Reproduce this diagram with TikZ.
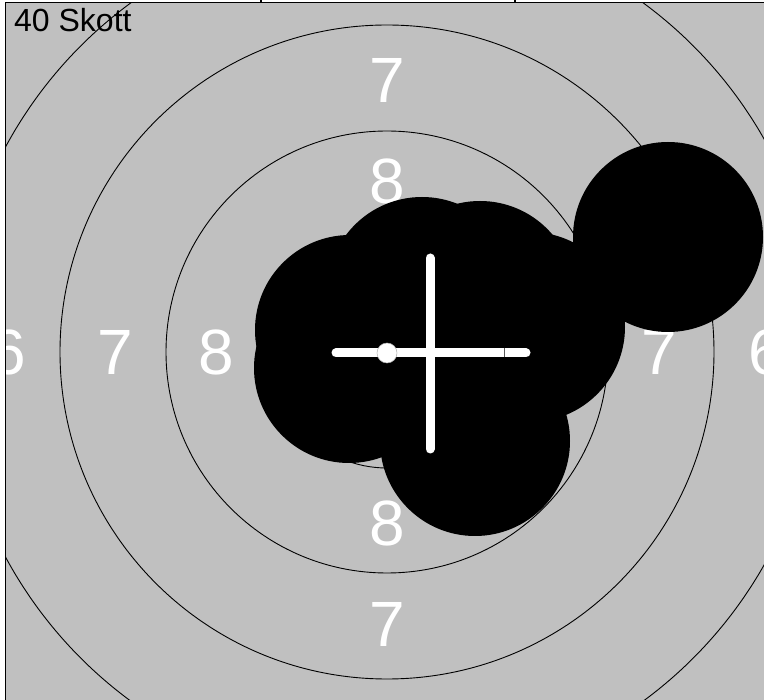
\documentclass[tikz,border=0pt]{standalone}
\usepackage{fontspec}
\setmainfont{Liberation Sans}
\definecolor{tgray}{RGB}{192,192,192}
\begin{document}
\begin{tikzpicture}[x=1pt,y=-1pt,
  ring/.style={draw=black,line width=0.9pt},
  lbl/.style={text=white,inner sep=0pt,font=\fontsize{64}{64}\selectfont},
  shot/.style={fill=black},
  cross/.style={draw=white,line width=9pt,line cap=round},
  frame/.style={draw=black,line width=1.2pt}]
\useasboundingbox (0,0) rectangle (764,700);
\fill[white] (0,0) rectangle (764,700);
\fill[tgray] (6,3) rectangle (764,700);
\begin{scope}
\clip (6,3) rectangle (764,700);
\coordinate (c) at (387,352);
\foreach \r in {116,221,327,433} \draw[ring] (c) circle[radius=\r];
% ring labels
\node[lbl] (l6w) at (8,352) {6};
\node[lbl] (l7w) at (115,352) {7};
\node[lbl] (l8w) at (216,352) {8};
\node[lbl] (l7e) at (659,352) {7};
\node[lbl] (l6e) at (766,352) {6};
\node[lbl] (l7n) at (387,80) {7};
\node[lbl] (l8n) at (387,181) {8};
\node[lbl] (l8s) at (387,523) {8};
\node[lbl] (l7s) at (387,624) {7};
% shots
\foreach \p in {(668,237),(422,292),(480,296),(350,330),(349,368),(475,441),(530,327)}
  \fill[shot] \p circle[radius=95];
% group centre cross
\coordinate (hl) at (336,353);
\coordinate (hr) at (526,353);
\coordinate (vt) at (430,258);
\coordinate (vb) at (430,449);
\draw[cross] (hl) -- (hr);
\draw[cross] (vt) -- (vb);
\coordinate (tk1) at (504,348.5);
\coordinate (tk2) at (504,357.5);
\draw[gray!70!black,line width=0.6pt] (tk1) -- (tk2);
\filldraw[fill=white,draw=gray!60,line width=0.5pt] (387,353) circle[radius=10];
\end{scope}
\node[anchor=base west,inner sep=0pt,font=\fontsize{32}{32}\selectfont] (title) at (14,32) {40 Skott};
% frame
\coordinate (fbl) at (5.5,700);
\coordinate (ftl) at (5.5,2.5);
\coordinate (ftr) at (764,2.5);
\draw[frame] (fbl) -- (ftl) -- (ftr);
\coordinate (t1a) at (261,0);
\coordinate (t1b) at (261,2.5);
\coordinate (t2a) at (515,0);
\coordinate (t2b) at (515,2.5);
\draw[frame] (t1a) -- (t1b);
\draw[frame] (t2a) -- (t2b);
\end{tikzpicture}
\end{document}
